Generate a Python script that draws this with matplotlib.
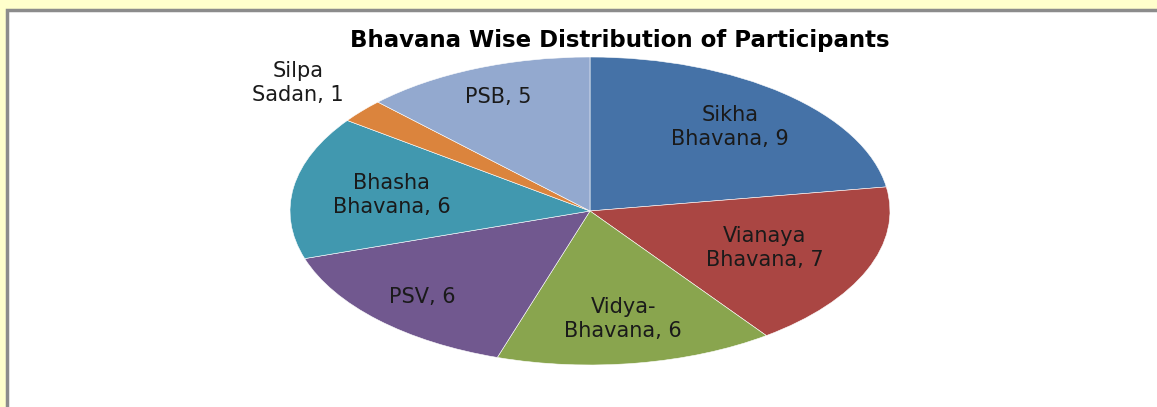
import matplotlib
matplotlib.use('Agg')
import matplotlib.pyplot as plt
from matplotlib.patches import Rectangle
import numpy as np

# data, clockwise from 12 o'clock
names = ['Sikha\nBhavana', 'Vianaya\nBhavana', 'Vidya-\nBhavana', 'PSV',
         'Bhasha\nBhavana', 'Silpa\nSadan', 'PSB']
counts = [9, 7, 6, 6, 6, 1, 5]
colors = ['#4572A7', '#AA4643', '#89A54E', '#71588F', '#4198AF', '#DB843D', '#93A9CF']
label_dist = [0.72, 0.63, 0.71, 0.79, 0.67, 1.28, 0.8]
title = 'Bhavana Wise Distribution of Participants'

plt.rcParams['font.family'] = ['DejaVu Sans']

fig = plt.figure(figsize=(11.57, 4.07), dpi=100, facecolor='#FFFFCC')
# white chart panel with grey frame
fig.patches.append(Rectangle((7/1157, -0.1), 2, (407-10)/407 + 0.1,
                             transform=fig.transFigure, facecolor='white',
                             edgecolor='#8c8c8c', lw=2.5, zorder=-5))

ax = fig.add_axes([290/1157, 42/407, 600/1157, 308/407])
ax.set_zorder(2)
wedges, _ = ax.pie(counts, colors=colors, startangle=90, counterclock=False,
                   wedgeprops=dict(edgecolor='white', linewidth=0.4))
ax.set_aspect('auto')
ax.set_xlim(-1, 1)
ax.set_ylim(-1, 1)
ax.axis('off')

# data labels "name, value" placed along each wedge's mid angle
for w, nm, c, d in zip(wedges, names, counts, label_dist):
    mid = np.deg2rad((w.theta1 + w.theta2) / 2)
    ax.text(d*np.cos(mid), d*np.sin(mid), '%s, %d' % (nm, c),
            ha='center', va='center', fontsize=15, color='#1a1a1a',
            linespacing=1.25, clip_on=False)

fig.text(620/1157, 1 - 40/407, title, ha='center', va='center',
         fontsize=16.5, fontweight='bold', color='black', zorder=3)

fig.savefig('out.png', dpi=100, facecolor=fig.get_facecolor())
